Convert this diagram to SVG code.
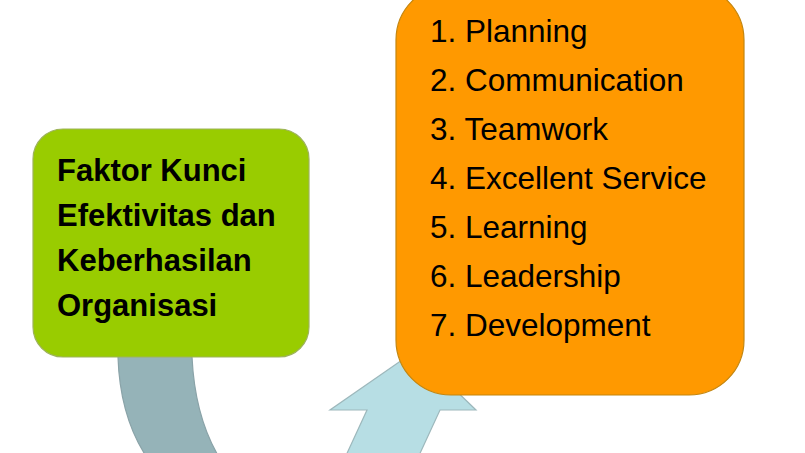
<svg xmlns="http://www.w3.org/2000/svg" width="805" height="453" viewBox="0 0 805 453">
<style>
.t{font-family:"Liberation Sans",Arial,sans-serif;fill:#000}
.g{font-size:31px;font-weight:bold}
.o{font-size:31.5px}
</style>
<rect width="805" height="453" fill="#fff"/>
<g id="connectors">
<path id="back-arc" d="M118,340 L118,357 Q120,420 150,462 L222,462 Q195,420 192,357 L192,340 Z" fill="#95B3B8" stroke="#8AA3A8" stroke-width="1.2"/>
<path id="up-arrow" d="M343,462 L367,410 L330,410 L415,351 L476,410 L440,410 L416,462 Z" fill="#B7DEE4" stroke="#9DB8BC" stroke-width="1.2"/>
</g>
<g id="node-factor">
<rect x="33" y="129" width="276" height="228" rx="30" ry="30" fill="#99CC00" stroke="#9DB35A" stroke-width="1.2"/>
<text class="t g" x="57" y="181">Faktor Kunci</text>
<text class="t g" x="57" y="226">Efektivitas dan</text>
<text class="t g" x="57" y="271">Keberhasilan</text>
<text class="t g" x="57" y="316">Organisasi</text>
</g>
<g id="node-list">
<rect x="396" y="-15" width="348" height="410" rx="55" ry="55" fill="#FF9900" stroke="#C4860F" stroke-width="1.2"/>
<text class="t o" x="430" y="42">1. Planning</text>
<text class="t o" x="430" y="91">2. Communication</text>
<text class="t o" x="430" y="140">3. Teamwork</text>
<text class="t o" x="430" y="189">4. Excellent Service</text>
<text class="t o" x="430" y="238">5. Learning</text>
<text class="t o" x="430" y="287">6. Leadership</text>
<text class="t o" x="430" y="336">7. Development</text>
</g>
</svg>
